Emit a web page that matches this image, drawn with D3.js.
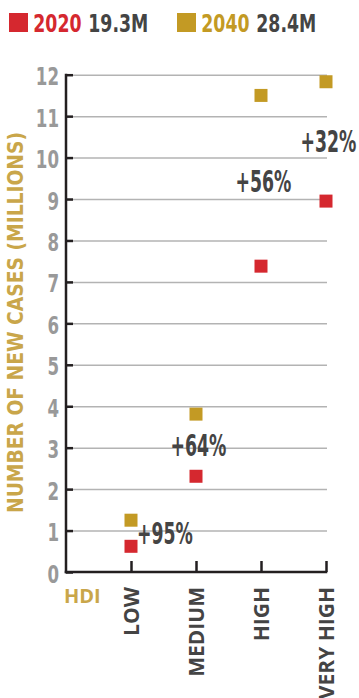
<!DOCTYPE html>
<html>
<head>
<meta charset="utf-8">
<script src="https://cdn.jsdelivr.net/npm/d3@7"></script>
<style>
  body { margin: 0; background: #fff; }
  svg { display: block; }
</style>
</head>
<body>
<svg id="chart" width="359" height="698"></svg>
<script>
// chart values
var categories = ["LOW", "MEDIUM", "HIGH", "VERY HIGH"];
var cases2020 = [0.62, 2.31, 7.38, 8.95];
var cases2040 = [1.25, 3.81, 11.5, 11.83];
var changeLabels = ["+95%", "+64%", "+56%", "+32%"];
var yTicks = [0, 1, 2, 3, 4, 5, 6, 7, 8, 9, 10, 11, 12];
var legendItems = [
  { year: "2020", total: "19.3M" },
  { year: "2040", total: "28.4M" }
];

var red = "#d5282f", gold = "#c39a24", ink = "#231f20", dark = "#444444";
var cond = "'DejaVu Sans Condensed', 'DejaVu Sans', sans-serif";

var svg = d3.select("#chart");

var axisX = 66, plotRight = 327;

var y = d3.scaleLinear()
  .domain([0, 12])
  .range([572, 74.7]);

var x = d3.scalePoint()
  .domain(categories)
  .range([131, 326]);

// gridlines
svg.append("g")
  .attr("transform", "translate(" + axisX + ",0)")
  .call(d3.axisLeft(y).tickValues(yTicks.slice(1)).tickSize(-(plotRight - axisX)).tickFormat(""))
  .call(function(g) { g.select(".domain").remove(); })
  .selectAll("line")
    .attr("stroke", "#b3b3b3")
    .attr("stroke-width", 1.5);

// y axis, narrow tall digits -> squeeze horizontally
var sq = 0.74;
var yAxis = svg.append("g")
  .attr("transform", "translate(" + axisX + ",0)")
  .call(d3.axisLeft(y).tickValues(yTicks).tickSize(-7).tickPadding(7).tickSizeOuter(0));
yAxis.select(".domain").remove();
yAxis.selectAll("line").attr("stroke", ink).attr("stroke-width", 2.5);
yAxis.selectAll("text")
  .attr("transform", "scale(" + sq + ",1)")
  .attr("x", -7 / sq)
  .attr("fill", "#999999")
  .attr("font-family", cond)
  .attr("font-weight", "bold")
  .attr("font-size", 25)
  .attr("dy", "0.40em");

// x axis
var xAxis = svg.append("g")
  .attr("transform", "translate(0," + y(0) + ")")
  .call(d3.axisBottom(x).tickSize(-11).tickSizeOuter(0));
xAxis.select(".domain").remove();
xAxis.selectAll("line").attr("stroke", ink).attr("stroke-width", 2.5);
xAxis.selectAll("text")
  .attr("transform", "rotate(-90)")
  .attr("x", -15)
  .attr("y", 0)
  .attr("dy", "0.36em")
  .attr("text-anchor", "end")
  .attr("fill", dark)
  .attr("font-family", "'Open Sans', sans-serif")
  .attr("font-weight", "bold")
  .attr("font-size", 21);

// axis lines
svg.append("line")
  .attr("x1", axisX).attr("x2", axisX)
  .attr("y1", y(12) - 1).attr("y2", y(0) + 1.25)
  .attr("stroke", ink).attr("stroke-width", 2.5);
svg.append("line")
  .attr("x1", axisX - 1.25).attr("x2", x("VERY HIGH") + 1.25)
  .attr("y1", y(0)).attr("y2", y(0))
  .attr("stroke", ink).attr("stroke-width", 2.5);

// markers
var sz = 13;
function squares(values, color) {
  svg.append("g").selectAll("rect")
    .data(values)
    .join("rect")
      .attr("x", function(d, i) { return x(categories[i]) - sz / 2; })
      .attr("y", function(d) { return y(d) - sz / 2; })
      .attr("width", sz)
      .attr("height", sz)
      .attr("fill", color);
}
squares(cases2020, red);
squares(cases2040, gold);

// change labels, centred between the two markers
svg.append("g").selectAll("text")
  .data(changeLabels)
  .join("text")
    .attr("transform", function(d, i) {
      var cx = i == 0 ? x(categories[i]) + 6 : x(categories[i]) + 2.5;
      var cy = y((cases2020[i] + cases2040[i]) / 2);
      return "translate(" + cx + "," + cy + ") scale(0.64,1)";
    })
    .attr("dy", "0.36em")
    .attr("text-anchor", function(d, i) { return i == 0 ? "start" : "middle"; })
    .attr("fill", dark)
    .attr("font-family", cond)
    .attr("font-weight", "bold")
    .attr("font-size", 30)
    .text(function(d) { return d; });

// y title
svg.append("text")
  .attr("transform", "translate(23.3,322.5) rotate(-90)")
  .attr("text-anchor", "middle")
  .attr("fill", "#c9a64a")
  .attr("font-family", cond)
  .attr("font-weight", "bold")
  .attr("font-size", 22)
  .attr("textLength", 381)
  .attr("lengthAdjust", "spacingAndGlyphs")
  .text("NUMBER OF NEW CASES (MILLIONS)");

svg.append("text")
  .attr("x", 64)
  .attr("y", 602.5)
  .attr("fill", "#c9a64a")
  .attr("font-family", "'Open Sans', sans-serif")
  .attr("font-weight", "bold")
  .attr("font-size", 20)
  .text("HDI");

// legend
var lsq = 0.77;
var legend = svg.append("g").selectAll("g")
  .data(legendItems)
  .join("g")
    .attr("transform", function(d, i) { return "translate(" + (9 + i * 168) + ",0)"; });
legend.append("rect")
  .attr("y", 13)
  .attr("width", 19)
  .attr("height", 19)
  .attr("fill", function(d, i) { return i == 0 ? red : gold; });
legend.append("text")
  .attr("transform", "translate(24.3,31.7) scale(" + lsq + ",1)")
  .attr("font-family", cond)
  .attr("font-weight", "bold")
  .attr("font-size", 25)
  .attr("fill", function(d, i) { return i == 0 ? red : gold; })
  .text(function(d) { return d.year; });
legend.append("text")
  .attr("transform", "translate(79.3,31.7) scale(" + lsq + ",1)")
  .attr("font-family", cond)
  .attr("font-weight", "bold")
  .attr("font-size", 25)
  .attr("fill", dark)
  .text(function(d) { return d.total; });
</script>
</body>
</html>
